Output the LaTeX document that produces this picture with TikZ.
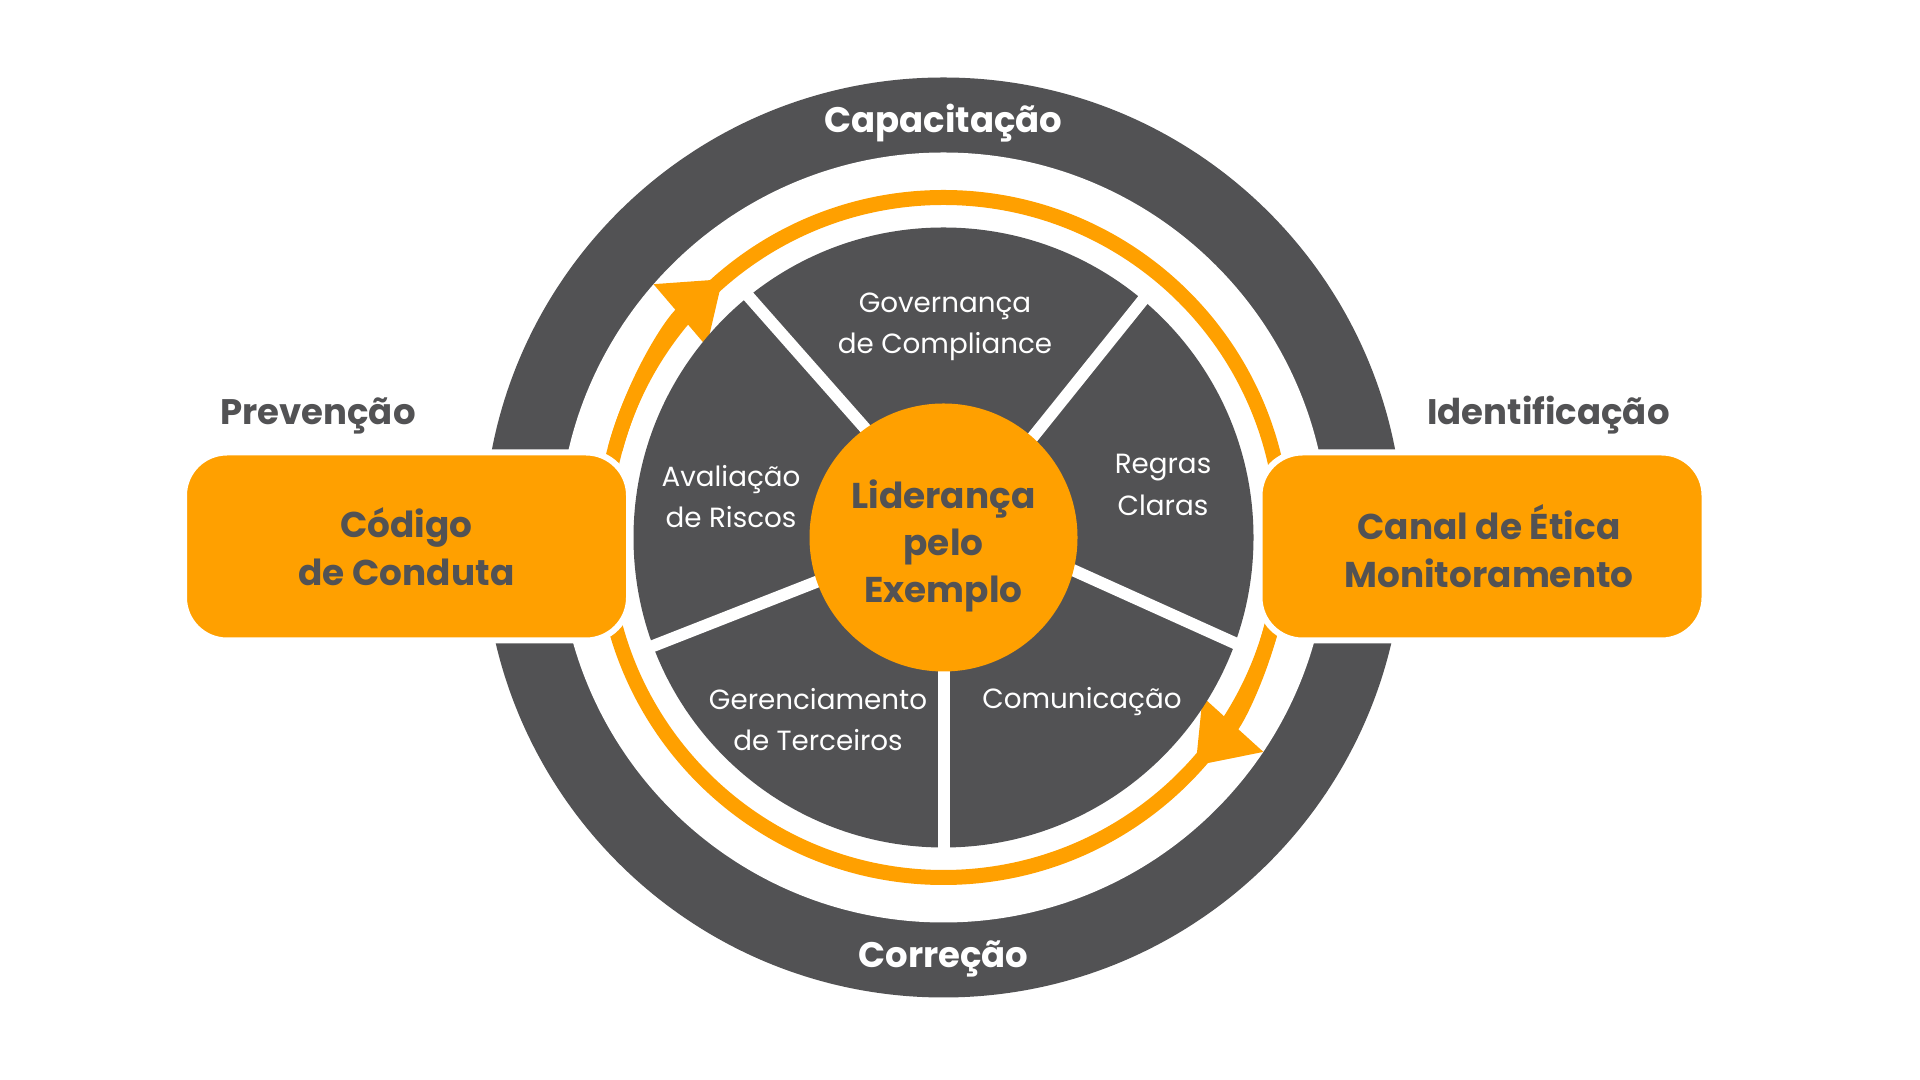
\documentclass[tikz,border=0pt]{standalone}
\usepackage{fontspec}
\setmainfont{Poppins}
\usetikzlibrary{arrows.meta,calc}

\definecolor{ringgrey}{HTML}{525254}
\definecolor{ringorange}{HTML}{FFA000}

\begin{document}
\begin{tikzpicture}[
    ring/.style={draw=ringorange, line width=1.5mm},
    sector/.style={white, line width=1.2mm},
    cyclearrow/.style={-{Triangle[length=5.6mm,width=7.8mm]}},
    segtext/.style={text=white, font=\fontsize{7.9}{11.7}\selectfont, align=center},
    boxtext/.style={text=ringgrey, font=\fontsize{10.2}{13.7}\selectfont\bfseries, align=center},
    tabbox/.style={fill=ringorange, draw=white, line width=0.6mm, rounded corners=4.3mm,
        minimum width=4.45cm, minimum height=1.88cm, inner sep=0pt},
    steplabel/.style={font=\fontsize{10.1}{12}\selectfont\bfseries, anchor=base}
]
    \useasboundingbox (0,0) rectangle (19.2,10.8);
    \fill[white] (0,0) rectangle (19.2,10.8);
    \coordinate (c) at (9.435,5.425);

    % Outer grey ring
    \fill[ringgrey] (c) circle[radius=4.6];
    \fill[white] (c) circle[radius=3.85];

    % Orange cycle
    \draw[ring] (c) circle[radius=3.4];
    \draw[ring, cyclearrow] ($(c)+(165:3.4)$) arc[start angle=165, end angle=130.5, radius=3.4];
    \draw[ring, cyclearrow] ($(c)+(-10:3.4)$) arc[start angle=-10, end angle=-42.2, radius=3.4];

    % Pie with five pillars
    \fill[ringgrey] (c) circle[radius=3.1];
    \foreach \a/\b in {125/129, 48/50, -13/-20, -90/-90, 199/200.5}
        \draw[sector] ($(c)+(\a:1.2)$) -- ($(c)+(\b:3.15)$);

    % Centre
    \node[circle, fill=ringorange, minimum size=2.68cm, inner sep=0pt] (lider) at (c) {};
    \node[boxtext, font=\fontsize{10.2}{13.4}\selectfont\bfseries] (lidertxt) at (9.435,5.34) {Liderança\\pelo\\Exemplo};

    % Pillar labels
    \node[segtext] (gov) at (9.45,7.53) {Governança\\de Compliance};
    \node[segtext] (regras) at (11.63,5.95) {Regras\\Claras};
    \node[segtext] (aval) at (7.31,5.83) {Avaliação\\de Riscos};
    \node[segtext] (geren) at (8.18,3.60) {Gerenciamento\\de Terceiros};
    \node[segtext] (comun) at (10.82,3.78) {Comunicação};

    % Side boxes
    \node[tabbox, boxtext] (codigo) at (4.065,5.335) {Código\\de Conduta};
    \node[tabbox] (canal) at (14.82,5.335) {};
    \node[boxtext] (canaltxt) at ($(canal.center)+(0.07,0)$) {Canal de Ética\\Monitoramento};

    % Ring labels
    \node[steplabel, text=ringgrey] (prev) at (3.18,6.55) {Prevenção};
    \node[steplabel, text=ringgrey] (ident) at (15.485,6.55) {Identificação};
    \node[steplabel, text=white] (capac) at (9.435,9.475) {Capacitação};
    \node[steplabel, text=white] (correc) at (9.435,1.12) {Correção};
\end{tikzpicture}
\end{document}
